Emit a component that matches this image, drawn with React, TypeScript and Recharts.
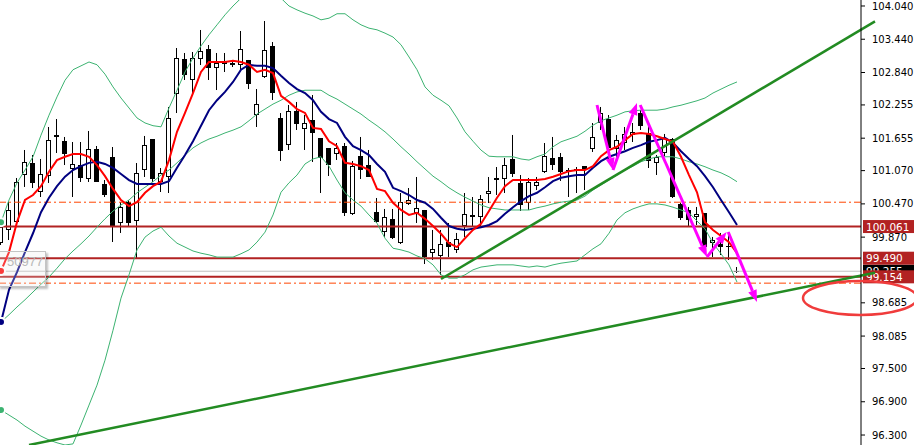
import React from "react";
import {
  Bar,
  ComposedChart,
  Line,
  ReferenceDot,
  ReferenceLine,
  XAxis,
  YAxis,
} from "recharts";

// candle OHLC, one entry per bar
const opens = [
  99.764, 99.999, 100.143, 100.991, 101.207, 100.684, 100.973, 101.713, 101.604, 101.099,
  101.171, 100.919, 101.46, 100.829, 101.316, 100.125, 100.504, 100.161, 101.081, 101.64,
  100.865, 100.955, 102.452, 103.084, 102.705, 103.084, 103.264, 102.921, 103.03, 103.011,
  102.975, 103.066, 102.073, 102.759, 103.318, 102.019, 101.532, 102.146, 101.821, 101.983,
  101.658, 101.478, 101.37, 101.514, 100.287, 101.334, 101.171, 100.324, 99.963, 100.197,
  99.764, 100.468, 100.305, 100.36, 99.584, 99.53, 99.782, 99.638, 100.071, 100.269,
  100.233, 100.648, 100.901, 100.919, 101.28, 100.847, 100.486, 100.793, 101.045, 101.298,
  101.316, 101.081, 101.099, 101.153, 101.46, 101.929, 102.001, 101.46, 101.568, 101.713,
  102.109, 101.749, 101.207, 101.388, 101.64, 100.468, 100.36, 100.233, 100.305, 99.764,
  99.746, 99.71, 99.259,
];
const highs = [
  100.215, 100.504, 100.937, 101.442, 101.352, 101.28, 101.857, 102.001, 101.677, 101.586,
  101.586, 101.785, 101.514, 100.901, 101.496, 100.504, 100.54, 101.207, 101.695, 101.64,
  101.117, 102.218, 103.282, 103.192, 103.21, 103.607, 103.336, 103.192, 103.192, 103.066,
  103.589, 103.066, 102.542, 103.769, 103.39, 102.109, 102.254, 102.308, 102.073, 102.434,
  101.658, 101.478, 101.568, 101.568, 101.244, 101.677, 101.442, 100.576, 100.378, 100.378,
  100.666, 100.756, 100.955, 100.36, 99.999, 99.999, 100.125, 99.945, 100.666, 100.594,
  100.63, 100.955, 101.135, 101.298, 101.713, 100.991, 100.937, 100.955, 101.568, 101.677,
  101.388, 101.117, 101.135, 101.153, 101.929, 102.218, 102.073, 101.713, 101.857, 101.929,
  102.164, 101.929, 101.352, 101.731, 101.658, 100.486, 100.414, 100.414, 100.305, 99.873,
  99.945, 99.963, 99.331,
];
const lows = [
  99.728, 99.818, 100.089, 100.775, 100.756, 100.594, 100.847, 101.388, 101.171, 100.594,
  100.865, 100.865, 100.865, 100.594, 99.782, 99.945, 100.053, 99.494, 100.955, 100.865,
  100.684, 100.666, 102.109, 102.705, 102.434, 102.975, 102.705, 102.524, 102.849, 102.939,
  102.885, 102.542, 101.857, 102.741, 102.344, 101.244, 101.442, 101.803, 101.442, 101.226,
  100.666, 100.973, 101.262, 100.251, 100.269, 100.919, 100.955, 100.125, 99.873, 99.836,
  99.746, 100.45, 100.125, 99.385, 99.458, 99.187, 99.512, 99.584, 99.873, 100.053,
  100.053, 100.486, 100.63, 100.666, 100.955, 100.342, 100.36, 100.72, 101.027, 101.081,
  100.883, 100.594, 100.666, 100.72, 101.406, 101.803, 101.262, 101.316, 101.442, 101.586,
  101.803, 101.117, 100.991, 101.334, 100.576, 100.179, 100.053, 100.089, 99.638, 99.512,
  99.548, 99.458, 99.223,
];
const closes = [
  100.053, 100.36, 100.865, 101.226, 100.847, 101.009, 101.622, 101.677, 101.37, 101.189,
  100.937, 101.46, 100.865, 100.63, 100.053, 100.414, 100.125, 101.027, 101.532, 100.919,
  101.027, 102.019, 103.102, 102.795, 103.102, 103.228, 102.921, 103.011, 102.993, 103.02,
  103.264, 102.633, 102.272, 103.246, 102.47, 101.424, 102.146, 101.911, 101.929, 101.749,
  101.298, 101.171, 101.478, 100.305, 101.153, 101.081, 100.955, 100.143, 100.233, 99.855,
  100.504, 100.54, 100.396, 99.512, 99.656, 99.746, 99.692, 99.836, 100.287, 100.233,
  100.558, 100.702, 100.937, 101.171, 101.009, 100.45, 100.865, 100.865, 101.334, 101.171,
  101.045, 101.07, 101.09, 101.081, 101.677, 102.109, 101.478, 101.622, 101.731, 101.767,
  101.875, 101.244, 101.316, 101.658, 100.594, 100.215, 100.179, 100.287, 99.692, 99.818,
  99.692, 99.7, 99.255,
];

// fast (red) and slow (navy) moving averages
const redMa = [
  99.26, 99.6, 100.14, 100.54, 100.63, 100.79, 101.05, 101.26, 101.32, 101.37,
  101.37, 101.32, 101.17, 100.97, 100.74, 100.54, 100.43, 100.5, 100.67, 100.79,
  100.87, 101.26, 101.77, 102.11, 102.47, 102.85, 103.03, 103.03, 103.03, 103.05,
  103.03, 102.98, 102.85, 102.89, 102.83, 102.42, 102.31, 102.18, 102.11, 101.84,
  101.82, 101.6, 101.51, 101.21, 101.19, 101.15, 101.08, 100.74, 100.7, 100.49,
  100.36, 100.27, 100.31, 100.2, 100.07, 99.93, 99.76, 99.69, 99.85, 100.0,
  100.11, 100.34, 100.58, 100.79, 100.9, 100.9, 100.9, 100.9, 100.92, 100.96,
  101.01, 101.06, 101.08, 101.08, 101.15, 101.33, 101.44, 101.5, 101.62, 101.73,
  101.75, 101.73, 101.69, 101.64, 101.59, 101.32, 100.99, 100.68, 100.14, 100.0,
  99.89, 99.78, 99.58,
];
const navyMa = [
  98.34, 98.92, 99.24, 99.6, 99.94, 100.32, 100.58, 100.79, 100.96, 101.08,
  101.15, 101.21, 101.23, 101.19, 101.12, 101.01, 100.9, 100.83, 100.83, 100.83,
  100.83, 100.88, 101.12, 101.35, 101.6, 101.88, 102.16, 102.34, 102.49, 102.67,
  102.89, 102.98, 102.96, 102.96, 102.92, 102.78, 102.65, 102.54, 102.47, 102.34,
  102.13, 102.0, 101.93, 101.68, 101.51, 101.44, 101.35, 101.19, 101.05, 100.76,
  100.7, 100.63, 100.54, 100.49, 100.38, 100.22, 100.07, 100.02, 100.0, 100.02,
  100.05, 100.09, 100.16, 100.29, 100.41, 100.52, 100.61, 100.67, 100.77, 100.88,
  100.94, 100.97, 100.99, 100.99, 101.12, 101.24, 101.32, 101.37, 101.42, 101.48,
  101.53, 101.59, 101.62, 101.66, 101.57, 101.42, 101.28, 101.15, 100.97, 100.77,
  100.54, 100.32, 100.09,
];

// bollinger bands
const bandUp = [
  100.14, 100.54, 100.85, 101.08, 101.32, 101.71, 102.07, 102.4, 102.7, 102.89,
  102.96, 103.03, 102.98, 102.81, 102.58, 102.38, 102.2, 102.02, 101.93, 101.88,
  101.86, 102.2, 102.52, 102.85, 103.1, 103.32, 103.52, 103.7, 103.88, 104.04,
  104.18, 104.33, 104.4, 104.4, 104.33, 104.18, 104.04, 103.97, 103.91, 103.86,
  103.79, 103.82, 103.9, 103.9, 103.79, 103.7, 103.64, 103.61, 103.55, 103.48,
  103.34, 103.12, 102.89, 102.58, 102.43, 102.34, 102.24, 102.02, 101.77, 101.6,
  101.44, 101.33, 101.32, 101.32, 101.32, 101.28, 101.26, 101.32, 101.37, 101.5,
  101.59, 101.64, 101.69, 101.78, 101.89, 101.97, 102.02, 102.07, 102.13, 102.15,
  102.16, 102.16, 102.16, 102.18, 102.22, 102.25, 102.29, 102.33, 102.38, 102.47,
  102.54, 102.61, 102.67,
];
const bandMid = [
  98.34, 98.47, 98.61, 98.74, 98.88, 99.02, 99.15, 99.31, 99.48, 99.62,
  99.75, 99.89, 100.05, 100.2, 100.34, 100.45, 100.54, 100.67, 100.77, 100.87,
  100.99, 101.08, 101.21, 101.35, 101.48, 101.57, 101.64, 101.69, 101.75, 101.8,
  101.86, 101.97, 102.09, 102.18, 102.27, 102.34, 102.43, 102.49, 102.52, 102.52,
  102.52, 102.43, 102.36, 102.27, 102.18, 102.09, 101.98, 101.88, 101.77, 101.64,
  101.5, 101.37, 101.23, 101.1, 100.97, 100.87, 100.76, 100.67, 100.59, 100.52,
  100.45, 100.4, 100.38, 100.36, 100.36, 100.36, 100.36, 100.4, 100.43, 100.47,
  100.5, 100.52, 100.54, 100.61, 100.72, 100.81, 100.9, 100.99, 101.08, 101.15,
  101.23, 101.28, 101.32, 101.32, 101.32, 101.28, 101.23, 101.19, 101.14, 101.08,
  101.03, 100.96, 100.87,
];
const bandLow = [
  96.75, 96.66, 96.57, 96.46, 96.37, 96.28, 96.21, 96.16, 96.12, 96.14,
  96.48, 96.84, 97.2, 97.65, 98.19, 98.77, 99.19, 99.64, 99.87, 99.98,
  100.05, 99.89, 99.76, 99.69, 99.62, 99.58, 99.55, 99.51, 99.51, 99.51,
  99.57, 99.64, 99.78, 99.96, 100.27, 100.68, 100.85, 100.99, 101.19, 101.28,
  101.32, 101.15, 100.9, 100.67, 100.54, 100.43, 100.27, 100.12, 99.85, 99.67,
  99.64, 99.6, 99.53, 99.48, 99.37, 99.19, 99.13, 99.13, 99.19, 99.28,
  99.33, 99.35, 99.37, 99.37, 99.37, 99.35, 99.33, 99.35, 99.33, 99.37,
  99.4, 99.42, 99.44, 99.55, 99.66, 99.75, 99.94, 100.18, 100.31, 100.38,
  100.43, 100.47, 100.47, 100.45, 100.41, 100.36, 100.31, 100.16, 100.02, 99.76,
  99.57, 99.37, 99.06,
];

const yTicks = [104.04, 103.44, 102.84, 102.255, 101.655, 101.07, 100.47, 99.87, 98.685, 98.085, 97.5, 96.9, 96.3];

// horizontal levels
const redLevels = [100.061, 99.49, 99.154];
const dashLevels = [100.5, 99.04];
const lastPrice = 99.255;

// trendlines [bar, price] -> [bar, price]
const trendLow = [[3.5, 96.12], [109.25, 99.227]];
const trendRise = [[55, 99.115], [109.25, 103.762]];

// magenta arrows [x1, y1, x2, y2] in bar / price
const arrows = [
  [74.5, 102.254, 76.5, 101.081],
  [76.5, 101.081, 79.5, 102.29],
  [79.9, 102.254, 88.25, 99.512],
  [88.25, 99.512, 90.7, 99.963],
  [90.9, 99.963, 94.5, 98.7],
];
const target = { bar: 107.375, price: 98.772 };

const rows = opens.map((o, i) => ({
  i,
  o,
  h: highs[i],
  l: lows[i],
  c: closes[i],
  red: redMa[i],
  navy: navyMa[i],
  up: bandUp[i],
  mid: bandMid[i],
  low: bandLow[i],
}));

const FONT = "DejaVu Sans, sans-serif";

function Candle(props: any) {
  const { x, y, width, height, payload } = props;
  if (x == null || y == null) return null;
  const top = Math.min(y, y + height);
  const h = Math.abs(height);
  const span = payload.h - payload.l;
  const py = (v: number) => (span > 0 ? top + ((payload.h - v) / span) * h : top);
  const col = Math.round(x + width / 2 - 0.5);
  const bt = Math.round(py(Math.max(payload.o, payload.c)));
  const bb = Math.max(bt + 1, Math.round(py(Math.min(payload.o, payload.c))));
  const bull = payload.c >= payload.o;
  return (
    <g>
      <line x1={col + 0.5} x2={col + 0.5} y1={top} y2={top + h} stroke="#000" strokeWidth={1} />
      {bull ? (
        <rect x={col - 1.5} y={bt + 0.5} width={4} height={Math.max(1, bb - bt - 1)} fill="#fff" stroke="#000" strokeWidth={1} />
      ) : (
        <rect x={col - 2} y={bt} width={5} height={bb - bt} fill="#000" />
      )}
    </g>
  );
}

function priceTag(text: string, bg: string) {
  return (p: any) => {
    const vb = p.viewBox || {};
    const x = (vb.x ?? 0) + (vb.width ?? 0) + 2;
    const y = vb.y ?? 0;
    return (
      <g>
        <rect x={x} y={y - 6.5} width={53} height={13} fill={bg} />
        <text x={x + 3} y={y + 4} fill="#fff" fontSize={10.5} fontFamily={FONT}>
          {text}
        </text>
      </g>
    );
  };
}

function ArrowShape(p: any) {
  const { x1, y1, x2, y2 } = p;
  if ([x1, y1, x2, y2].some((v) => v == null || isNaN(v))) return null;
  const ang = Math.atan2(y2 - y1, x2 - x1);
  const ux = Math.cos(ang);
  const uy = Math.sin(ang);
  const L = 12;
  const W = 4.5;
  const bx = x2 - ux * L;
  const by = y2 - uy * L;
  return (
    <g>
      <line x1={x1} y1={y1} x2={bx} y2={by} stroke="#ff00ff" strokeWidth={3} />
      <polygon
        points={`${x2},${y2} ${bx - uy * W},${by + ux * W} ${bx + uy * W},${by - ux * W}`}
        fill="#ff00ff"
      />
    </g>
  );
}

export default function App() {
  return (
    <div style={{ position: "absolute", left: 0, top: 0, width: 914, height: 445, background: "#fff" }}>
      <ComposedChart width={914} height={445} data={rows} margin={{ top: 0, right: 0, bottom: 0, left: 0 }}>
        <XAxis dataKey="i" type="number" domain={[-0.125, 107.5]} hide allowDataOverflow />
        <YAxis
          orientation="right"
          width={53}
          domain={[96.12, 104.148]}
          allowDataOverflow
          ticks={yTicks}
          interval={0}
          tickSize={4}
          tickMargin={7}
          tickFormatter={(v: number) => v.toFixed(3)}
          tick={{ fontSize: 10, fill: "#000", fontFamily: FONT }}
          axisLine={{ stroke: "#000" }}
          tickLine={{ stroke: "#000" }}
        />

        {dashLevels.map((v) => (
          <ReferenceLine key={"d" + v} y={v} stroke="#ff4500" strokeWidth={1} strokeDasharray="7 3 2 3" />
        ))}
        <ReferenceLine y={lastPrice} stroke="#c0c0c0" strokeWidth={1} label={priceTag(lastPrice.toFixed(3), "#000")} />
        {redLevels.map((v) => (
          <ReferenceLine key={"r" + v} y={v} stroke="#b22222" strokeWidth={2} label={priceTag(v.toFixed(3), "#b22222")} />
        ))}

        <Bar dataKey={(d: any) => [d.l, d.h]} barSize={5} shape={Candle} isAnimationActive={false} />

        <Line dataKey="up" stroke="#3cb371" strokeWidth={1} dot={false} isAnimationActive={false} />
        <Line dataKey="mid" stroke="#3cb371" strokeWidth={1} dot={false} isAnimationActive={false} />
        <Line dataKey="low" stroke="#3cb371" strokeWidth={1} dot={false} isAnimationActive={false} />
        <Line dataKey="navy" stroke="#000080" strokeWidth={2} dot={false} isAnimationActive={false} />
        <Line dataKey="red" stroke="#ff0000" strokeWidth={2} dot={false} isAnimationActive={false} />

        <ReferenceLine
          segment={[{ x: trendLow[0][0], y: trendLow[0][1] }, { x: trendLow[1][0], y: trendLow[1][1] }]}
          stroke="#228b22"
          strokeWidth={2.5}
          ifOverflow="visible"
        />
        <ReferenceLine
          segment={[{ x: trendRise[0][0], y: trendRise[0][1] }, { x: trendRise[1][0], y: trendRise[1][1] }]}
          stroke="#228b22"
          strokeWidth={2.5}
          ifOverflow="visible"
        />

        {arrows.map((a, k) => (
          <ReferenceLine
            key={"a" + k}
            segment={[{ x: a[0], y: a[1] }, { x: a[2], y: a[3] }]}
            ifOverflow="visible"
            shape={ArrowShape}
          />
        ))}

        <ReferenceDot
          x={target.bar}
          y={target.price}
          ifOverflow="visible"
          shape={(p: any) => (
            <ellipse cx={p.cx} cy={p.cy} rx={57} ry={17} fill="none" stroke="#f03c3c" strokeWidth={2.5} />
          )}
        />
      </ComposedChart>

      <div
        style={{
          position: "absolute",
          left: -2,
          top: 251,
          width: 48,
          height: 36,
          border: "1px solid #c4c4c4",
          background: "rgba(235,235,235,0.25)",
          boxShadow: "2px 2px 2px rgba(0,0,0,0.25)",
          fontFamily: "Liberation Sans, sans-serif",
          fontSize: 13,
          color: "#b8b8b8",
          lineHeight: "16px",
          paddingLeft: 8,
          paddingTop: 2,
          boxSizing: "border-box",
          overflow: "hidden",
        }}
      >
        50977
      </div>
    </div>
  );
}
